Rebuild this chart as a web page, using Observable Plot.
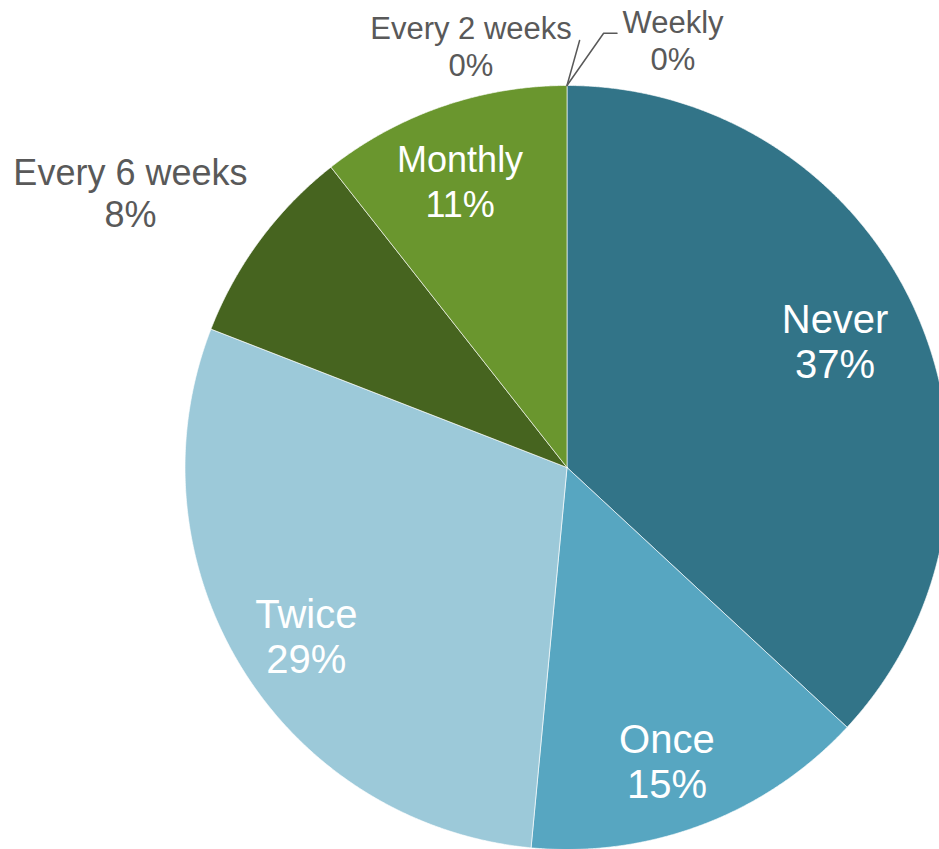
<!DOCTYPE html>
<html><head><meta charset="utf-8">
<script src="https://cdn.jsdelivr.net/npm/d3@7"></script>
<script src="https://cdn.jsdelivr.net/npm/@observablehq/plot@0.6"></script>
<style>
html,body{margin:0;padding:0;background:#fff;}
#chart{width:939px;height:849px;overflow:hidden;position:relative;}
#chart svg{overflow:hidden;}
</style></head><body><div id="chart"></div>
<script>
// ---- data ----
const categories = ["Never", "Once", "Twice", "Every 6 weeks", "Monthly", "Every 2 weeks", "Weekly"];
const shares = [36.9, 14.6, 29.4, 8.5, 10.6, 0, 0];
const pctLabels = ["37%", "15%", "29%", "8%", "11%", "0%", "0%"];
const sliceColors = ["#327488", "#57a6c1", "#9cc9d9", "#46641f", "#6a962e", "#6a962e", "#327488"];

// ---- layout (pixels) ----
const W = 939, H = 849, CX = 566.5, CY = 467, R = 382;
const labelLayout = {
  "Never":         {k: 0.8, nudge: [-12, -4.6], group: "in"},
  "Once":          {k: 0.8, nudge: [-9, 8],     group: "in"},
  "Twice":         {k: 0.8, nudge: [-0.6, 8.4], group: "in"},
  "Monthly":       {k: 0.8, nudge: [-7, 1.7],   group: "mid"},
  "Every 6 weeks": {k: 1.3, nudge: [-37.6, 20.6], group: "out"},
  "Every 2 weeks": {k: 1.0, nudge: [-96, -40],  group: "small"},
  "Weekly":        {k: 1.0, nudge: [106, -46],  group: "small"}
};
const leaderPaths = {
  "Every 2 weeks": [[0, 0], [12.6, -45]],
  "Weekly": [[0, 0], [36.6, -52.3], [50, -52.3]]
};
const groupStyle = {
  in:    {fontSize: 40, lineHeight: 1.13, fill: "#ffffff"},
  mid:   {fontSize: 36, lineHeight: 1.23, fill: "#ffffff"},
  out:   {fontSize: 36, lineHeight: 1.16, fill: "#595959"},
  small: {fontSize: 31, lineHeight: 1.21, fill: "#595959"}
};

// ---- compute slices ----
const total = d3.sum(shares);
const slices = [];
let acc = 0;
categories.forEach((name, i) => {
  const a0 = acc / total * 2 * Math.PI;
  acc += shares[i];
  const a1 = acc / total * 2 * Math.PI;
  slices.push({name, value: shares[i], pct: pctLabels[i], a0, a1, mid: (a0 + a1) / 2});
});
const polar = (a, r) => ({x: r * Math.sin(a), y: r * Math.cos(a)});

const polyPoints = [];
for (const s of slices) {
  if (s.value <= 0) continue;
  polyPoints.push({name: s.name, ...polar(0, 0)});
  const n = Math.max(2, Math.ceil((s.a1 - s.a0) / (Math.PI / 720)));
  for (let j = 0; j <= n; j++) {
    const a = s.a0 + (s.a1 - s.a0) * j / n;
    polyPoints.push({name: s.name, ...polar(a, 1)});
  }
  polyPoints.push({name: s.name, ...polar(0, 0)});
}

const labels = slices.map(s => {
  const L = labelLayout[s.name];
  const p = polar(s.mid, L.k);
  return {name: s.name, group: L.group, text: s.name + "\n" + s.pct,
          x: p.x + L.nudge[0] / R, y: p.y - L.nudge[1] / R};
});

const leaders = [];
for (const s of slices) {
  const path = leaderPaths[s.name];
  if (!path) continue;
  const o = polar(s.mid, 1);
  for (const [dx, dy] of path) leaders.push({name: s.name, x: o.x + dx / R, y: o.y - dy / R});
}

const textMarks = Object.entries(groupStyle).map(([g, st]) =>
  Plot.text(labels.filter(d => d.group === g), {
    x: "x", y: "y", text: "text",
    fontSize: st.fontSize, lineHeight: st.lineHeight, fill: st.fill,
    fontFamily: "'Liberation Sans', Arial, sans-serif", textAnchor: "middle", lineAnchor: "middle"
  })
);

const chart = Plot.plot({
  width: W, height: H,
  marginTop: 0, marginRight: 0, marginBottom: 0, marginLeft: 0,
  style: {background: "#fff", overflow: "hidden"},
  x: {domain: [-CX / R, (W - CX) / R], axis: null},
  y: {domain: [-(H - CY) / R, CY / R], axis: null},
  color: {domain: categories, range: sliceColors},
  marks: [
    Plot.line(polyPoints, {x: "x", y: "y", z: "name", fill: "name", stroke: "#ffffff",
      strokeWidth: 0.8, strokeOpacity: 0.8, curve: "linear-closed"}),
    Plot.line(leaders, {x: "x", y: "y", z: "name", stroke: "#595959", strokeWidth: 1.5}),
    ...textMarks
  ]
});
document.getElementById("chart").append(chart);
</script>
</body></html>
